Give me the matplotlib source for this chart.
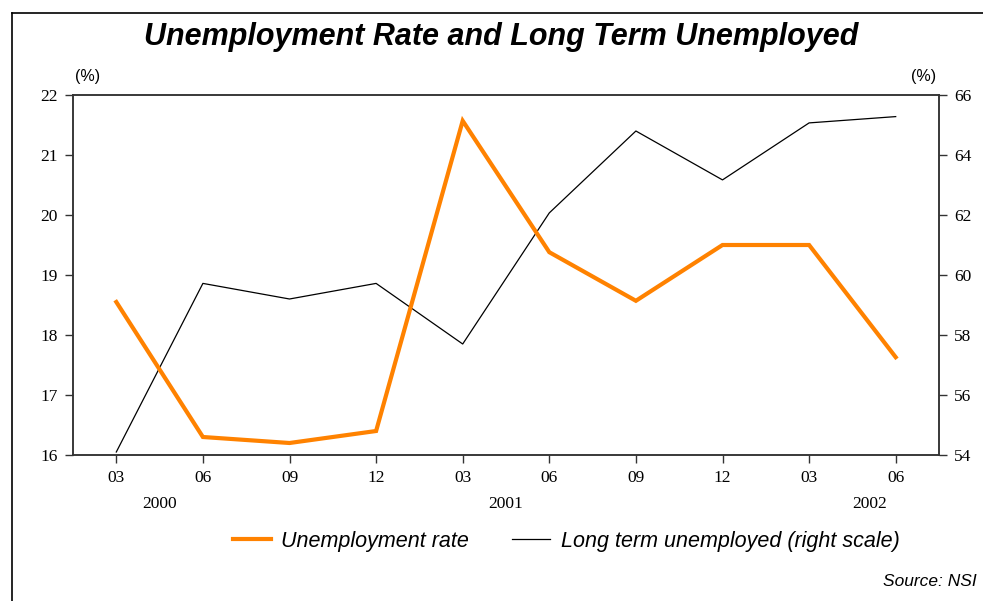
import matplotlib.pyplot as plt
from matplotlib.lines import Line2D

# quarter labels and the two series
quarters = ["03", "06", "09", "12", "03", "06", "09", "12", "03", "06"]
years = ["2000", "2001", "2002"]
year_pos = [0.5, 4.5, 8.7]
unemployment_rate = [18.55, 16.3, 16.2, 16.4, 21.57, 19.38, 18.57, 19.5, 19.5, 17.63]
long_term = [54.1, 59.72, 59.2, 59.72, 57.7, 62.07, 64.8, 63.17, 65.07, 65.28]

serif = "Liberation Serif"
sans = "Liberation Sans"
orange = "#FF8200"
spine_col = "#333333"

fig = plt.figure(figsize=(9.83, 6.01), dpi=100)
ax = fig.add_axes([73 / 983, 1 - 455 / 601, 866 / 983, 360 / 601])
ax2 = ax.twinx()

x = list(range(len(quarters)))
ax.plot(x, unemployment_rate, color=orange, lw=3, solid_joinstyle="miter", zorder=3)
ax2.plot(x, long_term, color="black", lw=0.9)
ax.set_zorder(ax2.get_zorder() + 1)
ax.patch.set_visible(False)

ax.set_xlim(-0.5, 9.5)
ax.set_ylim(16, 22)
ax2.set_ylim(54, 66)
ax.set_yticks(range(16, 23))
ax2.set_yticks(range(54, 67, 2))
ax.set_xticks(x)
ax.set_xticklabels(quarters)

for a in (ax, ax2):
    for s in a.spines.values():
        s.set_color(spine_col)
        s.set_linewidth(1.1)
    a.tick_params(direction="out", length=6, width=1, color=spine_col,
                  labelsize=12.5, pad=5)
    for lab in a.get_xticklabels() + a.get_yticklabels():
        lab.set_fontfamily(serif)

for yr, p in zip(years, year_pos):
    ax.text(p, -0.135, yr, transform=ax.get_xaxis_transform(), ha="center",
            va="center", fontsize=12.5, family=serif)

ax.text(0.017, 1.05, "(%)", transform=ax.transAxes, ha="center", va="center",
        fontsize=11.5, family=sans)
ax.text(0.982, 1.05, "(%)", transform=ax.transAxes, ha="center", va="center",
        fontsize=11.5, family=sans)

fig.text(0.510, 1 - 37 / 601, "Unemployment Rate and Long Term Unemployed",
         ha="center", va="center", fontsize=22, fontweight="bold",
         fontstyle="italic", family=sans)

handles = [Line2D([], [], color=orange, lw=3),
           Line2D([], [], color="black", lw=0.9)]
fig.legend(handles, ["Unemployment rate", "Long term unemployed (right scale)"],
           loc="center", bbox_to_anchor=(0.576, 1 - 541 / 601), ncol=2,
           frameon=False, handlelength=1.75, handletextpad=0.5,
           columnspacing=2.0,
           prop={"family": sans, "style": "italic", "size": 15.5})

fig.text(977 / 983, 1 - 581 / 601, "Source: NSI", ha="right", va="center",
         fontsize=12.5, fontstyle="italic", family=sans)

# outer frame (left and top edges visible)
fig.add_artist(Line2D([12 / 983, 12 / 983], [0, 1 - 13 / 601],
                      transform=fig.transFigure, color="black", lw=1.2))
fig.add_artist(Line2D([12 / 983, 1], [1 - 13 / 601, 1 - 13 / 601],
                      transform=fig.transFigure, color="black", lw=1.2))

fig.savefig("out.png", dpi=100)
